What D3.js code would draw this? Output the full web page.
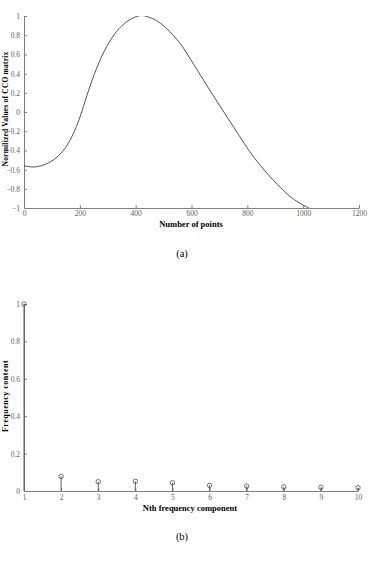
<!DOCTYPE html>
<html>
<head>
<meta charset="utf-8">
<script src="https://cdn.jsdelivr.net/npm/d3@7"></script>
<style>
  body { margin: 0; background: #fff; }
  svg text { font-family: "Liberation Serif", "Times New Roman", serif; }
  .axis path, .axis line { stroke: #808080; }
  .axis text { fill: #606060; font-size: 7.5px; }
</style>
</head>
<body>
<div id="chart"></div>
<script>
// (a) normalized CCO values against number of points
var pointsX = [0, 33, 69, 105, 141, 171, 201, 225, 260, 296, 332, 368, 395, 410, 420, 434, 470, 511, 559, 607, 678, 750, 822, 893, 953, 1000, 1022];
var cooVals = [-0.559, -0.573, -0.552, -0.5, -0.4, -0.26, -0.05, 0.17, 0.455, 0.68, 0.84, 0.94, 0.985, 1.0, 1.006, 1.0, 0.96, 0.87, 0.715, 0.5, 0.17, -0.153, -0.466, -0.71, -0.88, -0.97, -1.0];
var xTicksA = [0, 200, 400, 600, 800, 1000, 1200];
var yTicksA = [-1, -0.8, -0.6, -0.4, -0.2, 0, 0.2, 0.4, 0.6, 0.8, 1];

// (b) frequency content of first ten components
var components = [1, 2, 3, 4, 5, 6, 7, 8, 9, 10];
var freqContent = [1.0, 0.078, 0.05, 0.052, 0.044, 0.03, 0.026, 0.022, 0.02, 0.018];
var yTicksB = [0, 0.2, 0.4, 0.6, 0.8, 1];

var svg = d3.select("#chart").append("svg")
    .attr("width", 369)
    .attr("height", 561);

var fmt = function(d) { return d3.format("")(+d.toFixed(1)); };

// ---------- chart (a) ----------
var xa = d3.scaleLinear().domain([0, 1200]).range([24, 359]);
var ya = d3.scaleLinear().domain([-1, 1]).range([208, 16]);

svg.append("g")
    .attr("class", "axis")
    .attr("transform", "translate(0," + ya(-1) + ")")
    .call(d3.axisBottom(xa).tickValues(xTicksA).tickSizeInner(-3).tickSizeOuter(0).tickPadding(3).tickFormat(d3.format("d")));

svg.append("g")
    .attr("class", "axis")
    .attr("transform", "translate(" + xa(0) + ",0)")
    .call(d3.axisLeft(ya).tickValues(yTicksA).tickSizeInner(-3).tickSizeOuter(0).tickPadding(4).tickFormat(fmt));

svg.append("clipPath").attr("id", "clipA")
  .append("rect")
    .attr("x", xa(0)).attr("y", ya(1))
    .attr("width", xa(1200) - xa(0)).attr("height", ya(-1) - ya(1));

var cooData = pointsX.map(function(x, i) { return {x: x, y: cooVals[i]}; });

svg.append("path")
    .datum(cooData)
    .attr("clip-path", "url(#clipA)")
    .attr("fill", "none")
    .attr("stroke", "#404040")
    .attr("stroke-width", 0.9)
    .attr("d", d3.line()
        .curve(d3.curveCatmullRom.alpha(0.5))
        .x(function(d) { return xa(d.x); })
        .y(function(d) { return ya(d.y); }));

svg.append("text")
    .attr("x", 191).attr("y", 227)
    .attr("text-anchor", "middle")
    .attr("font-size", 8.5)
    .attr("font-weight", "bold")
    .text("Number of points");

svg.append("text")
    .attr("transform", "translate(8,109) rotate(-90)")
    .attr("text-anchor", "middle")
    .attr("font-size", 7.5)
    .attr("font-weight", "bold")
    .attr("letter-spacing", 0.2)
    .text("Normilized Values of CCO matrix");

svg.append("text")
    .attr("x", 182).attr("y", 257)
    .attr("text-anchor", "middle")
    .attr("font-size", 10.5)
    .text("(a)");

// ---------- chart (b) ----------
var xb = d3.scaleLinear().domain([1, 10]).range([24, 358]);
var yb = d3.scaleLinear().domain([0, 1]).range([491, 304]);

svg.append("g")
    .attr("class", "axis")
    .attr("transform", "translate(0," + yb(0) + ")")
    .call(d3.axisBottom(xb).tickValues(components).tickSizeInner(-3).tickSizeOuter(0).tickPadding(4).tickFormat(d3.format("d")));

svg.append("g")
    .attr("class", "axis")
    .attr("transform", "translate(" + xb(1) + ",0)")
    .call(d3.axisLeft(yb).tickValues(yTicksB).tickSizeInner(-3).tickSizeOuter(0).tickPadding(4).tickFormat(fmt));

var stems = svg.append("g")
    .selectAll("g")
    .data(components)
    .join("g");

stems.append("line")
    .attr("x1", function(d) { return xb(d); })
    .attr("x2", function(d) { return xb(d); })
    .attr("y1", yb(0))
    .attr("y2", function(d, i) { return yb(freqContent[i]); })
    .attr("stroke", "#505050")
    .attr("stroke-width", 0.9);

stems.append("circle")
    .attr("cx", function(d) { return xb(d); })
    .attr("cy", function(d, i) { return yb(freqContent[i]); })
    .attr("r", 2.2)
    .attr("fill", "none")
    .attr("stroke", "#505050")
    .attr("stroke-width", 0.8);

svg.append("text")
    .attr("x", 190).attr("y", 511)
    .attr("text-anchor", "middle")
    .attr("font-size", 8.5)
    .attr("font-weight", "bold")
    .text("Nth frequency component");

svg.append("text")
    .attr("transform", "translate(8,396) rotate(-90)")
    .attr("text-anchor", "middle")
    .attr("font-size", 8)
    .attr("font-weight", "bold")
    .attr("letter-spacing", 0.5)
    .text("Frequency content");

svg.append("text")
    .attr("x", 182).attr("y", 540)
    .attr("text-anchor", "middle")
    .attr("font-size", 10.5)
    .text("(b)");
</script>
</body>
</html>
